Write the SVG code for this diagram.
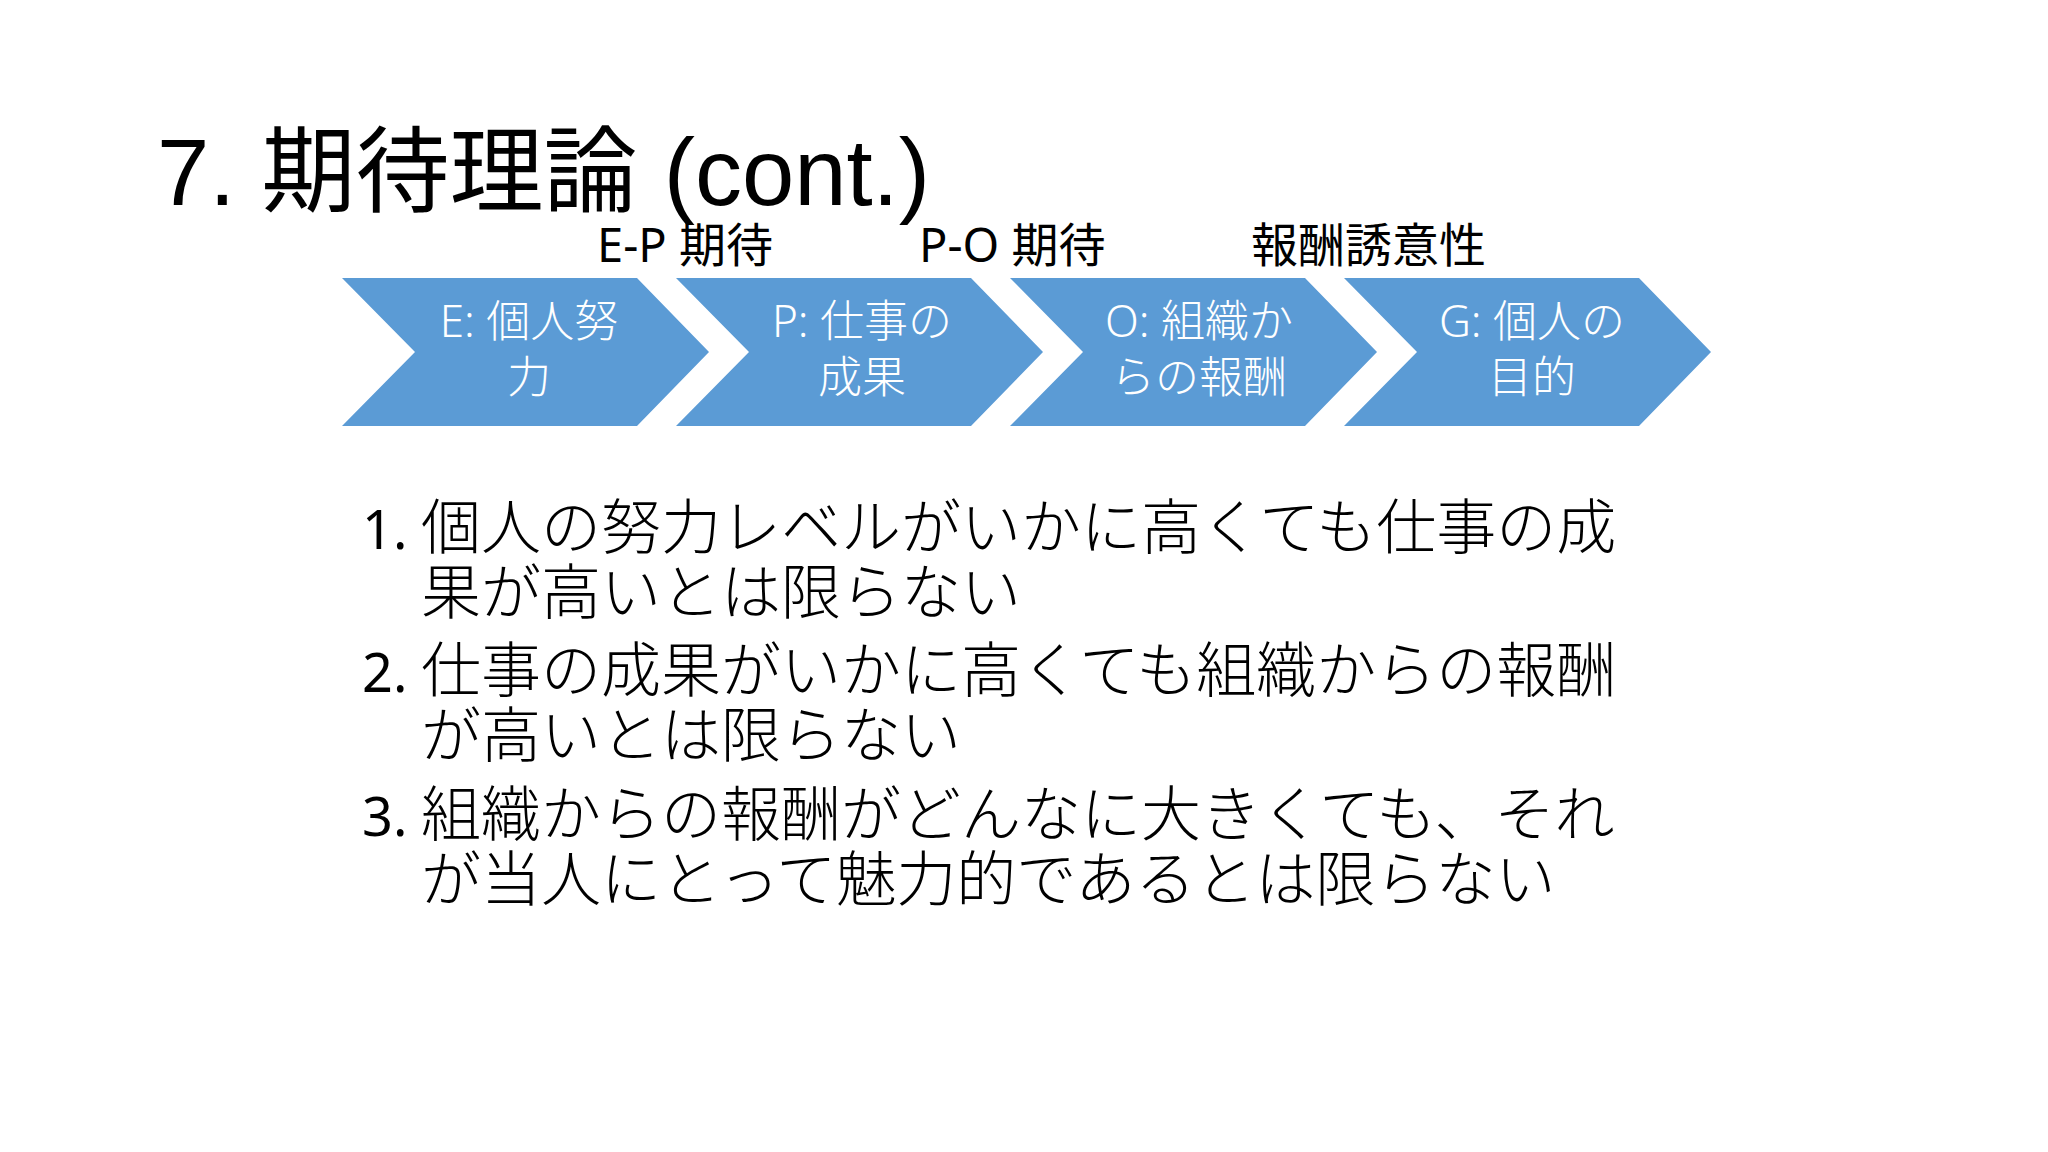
<svg xmlns="http://www.w3.org/2000/svg" width="2048" height="1152" viewBox="0 0 2048 1152">
<style>
.t{font-family:"Liberation Sans","Noto Sans CJK JP",sans-serif;fill:#000}
.l{font-family:"Noto Sans","Noto Sans CJK JP",sans-serif;font-size:47px;fill:#000}
.c{font-family:"Noto Sans","Noto Sans CJK JP",sans-serif;font-size:44px;fill:#fff;text-anchor:middle;font-weight:300}
.b{font-family:"Noto Sans","Noto Sans CJK JP",sans-serif;font-size:60px;fill:#000;font-weight:300}
.n{font-family:"Noto Sans",sans-serif;font-size:54px;fill:#000}
.ch{fill:#5B9BD5}
</style>
<defs><path id="chev" d="M0 0 H295 L367 74 L295 148 H0 L73 74 Z"/></defs>
<rect width="2048" height="1152" fill="#fff"/>
<text class="t" x="157" y="205" font-size="94">7. 期待理論 (cont.)</text>
<text class="l" x="597" y="262">E-P 期待</text>
<text class="l" x="919" y="262">P-O 期待</text>
<text class="l" x="1251" y="262" font-size="49">報酬誘意性</text>
<g id="nodeE"><use href="#chev" x="342" y="278" class="ch"/><text class="c" x="529" y="337">E: 個人努</text><text class="c" x="529" y="393">力</text></g>
<g id="nodeP"><use href="#chev" x="676" y="278" class="ch"/><text class="c" x="862" y="337">P: 仕事の</text><text class="c" x="862" y="393">成果</text></g>
<g id="nodeO"><use href="#chev" x="1010" y="278" class="ch"/><text class="c" x="1199" y="337">O: 組織か</text><text class="c" x="1199" y="393">らの報酬</text></g>
<g id="nodeG"><use href="#chev" x="1344" y="278" class="ch"/><text class="c" x="1532" y="337">G: 個人の</text><text class="c" x="1532" y="393">目的</text></g>
<g id="connectors"></g>
<g id="list">
<text class="n" x="362" y="549">1.</text><text class="b" x="421" y="549">個人の努力レベルがいかに高くても仕事の成</text>
<text class="b" x="421" y="614">果が高いとは限らない</text>
<text class="n" x="362" y="692">2.</text><text class="b" x="421" y="692">仕事の成果がいかに高くても組織からの報酬</text>
<text class="b" x="421" y="757">が高いとは限らない</text>
<text class="n" x="362" y="836">3.</text><text class="b" x="421" y="836">組織からの報酬がどんなに大きくても、それ</text>
<text class="b" x="421" y="901">が当人にとって魅力的であるとは限らない</text>
</g>
</svg>
